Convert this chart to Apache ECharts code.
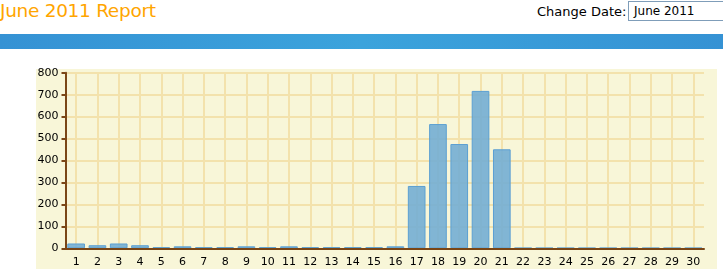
<!DOCTYPE html>
<html><head><meta charset="utf-8">
<script src="https://cdn.jsdelivr.net/npm/echarts@6/dist/echarts.min.js"></script>
<style>
html,body{margin:0;padding:0;width:723px;height:277px;overflow:hidden;background:#fff;font-family:"DejaVu Sans",sans-serif;}
#title{position:absolute;left:0;top:0px;font-size:18.5px;color:#ffa500;font-family:"DejaVu Sans",sans-serif;line-height:22px;letter-spacing:-0.3px;}
#cd{position:absolute;left:537px;top:3px;font-size:13px;color:#000;line-height:18px;}
#inp{position:absolute;left:628px;top:1px;width:100px;height:20px;border:1px solid #7f9db9;box-sizing:border-box;font-size:12px;line-height:18px;padding-left:5px;color:#000;background:#fff;}
#band{position:absolute;left:0;top:34px;width:723px;height:15px;background:linear-gradient(to right,#3592d4,#3ba3dc 50%,#3592d4);}
#bg{position:absolute;left:36px;top:69px;width:681px;height:200px;background:#f8f6d8;}
#chart{position:absolute;left:0;top:0;width:723px;height:277px;}
</style></head>
<body>
<div id="title">June 2011 Report</div>
<div id="cd">Change Date:</div>
<div id="inp">June 2011</div>
<div id="band"></div>
<div id="bg"></div>
<div id="chart"></div>
<script>
const days = ['1','2','3','4','5','6','7','8','9','10','11','12','13','14','15','16','17','18','19','20','21','22','23','24','25','26','27','28','29','30'];
const values = [22,14,22,14,5,9,5,5,9,5,9,5,5,5,5,9,284,566,475,717,451,2,2,2,2,2,2,2,2,2];
const yTicks = [0,100,200,300,400,500,600,700,800];

// helper axis: half-slot positions so split lines fall on category centres
const halfSlots = [];
for (let i = 0; i <= days.length * 2; i++) halfSlots.push(String(i));

const chart = echarts.init(document.getElementById('chart'), null, {renderer:'canvas'});
const axisColor = '#7a4616';
const gridColor = '#f3e2ac';
chart.setOption({
  animation:false,
  backgroundColor:'transparent',
  grid:{left:65.5,right:19,top:72.7,bottom:28.7,containLabel:false},
  xAxis:[{
    type:'category',data:days,boundaryGap:true,
    axisLine:{lineStyle:{color:axisColor,width:2}},
    axisTick:{alignWithLabel:true,length:5,lineStyle:{color:axisColor,width:2}},
    axisLabel:{color:'#000',fontSize:11,fontFamily:'DejaVu Sans',margin:8,interval:0},
    splitLine:{show:false},z:5
  },{
    type:'category',data:halfSlots,boundaryGap:false,position:'top',
    axisLine:{show:false},axisTick:{show:false},axisLabel:{show:false},
    splitLine:{show:true,interval:(i)=>i%2===1,lineStyle:{color:gridColor,width:2}}
  }],
  yAxis:{
    type:'value',min:yTicks[0],max:yTicks[yTicks.length-1],interval:100,
    axisLine:{show:true,lineStyle:{color:axisColor,width:2}},
    axisTick:{show:true,length:4,lineStyle:{color:axisColor,width:2}},
    axisLabel:{color:'#000',fontSize:11,fontFamily:'DejaVu Sans',margin:7},
    splitLine:{show:true,lineStyle:{color:gridColor,width:2}}
  },
  series:[
    {type:'bar',data:values,xAxisIndex:0,barCategoryGap:'17%',
     itemStyle:{color:'rgba(115,174,212,0.9)',borderColor:'#5b9fd2',borderWidth:1}}
  ]
});
</script>
</body></html>
